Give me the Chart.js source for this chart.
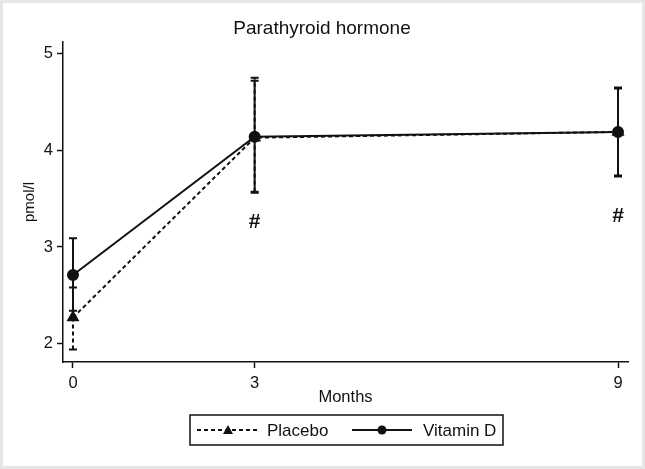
<!DOCTYPE html>
<html>
<head>
<meta charset="utf-8">
<script src="https://cdn.jsdelivr.net/npm/chart.js@4"></script>
<style>
  html, body { margin: 0; padding: 0; background: #fff; }
  #wrap { width: 645px; height: 469px; position: relative; }
</style>
</head>
<body>
<div id="wrap"><canvas id="c"></canvas></div>
<script>
const months = [0, 3, 9];
const xTicks = [0, 3, 9];
const yTicks = [2, 3, 4, 5];

const placebo = [2.27, 4.13, 4.19];
const placeboLow = [1.94, 3.57, 3.74];
const placeboHigh = [2.58, 4.75, 4.64];

const vitD = [2.71, 4.14, 4.19];
const vitDLow = [2.34, 3.56, 3.73];
const vitDHigh = [3.09, 4.72, 4.65];

const hashMonths = [3, 9];
const hashY = [3.26, 3.32];

const FONT = "Liberation Sans, Arial, sans-serif";

function pts(xs, ys) {
  return xs.map((x, i) => ({ x, y: ys[i] }));
}

// error bars drawn through the chart's scales
const errorBars = {
  id: "errorBars",
  afterDatasetsDraw(chart) {
    const { ctx, scales: { x, y } } = chart;
    const sets = [
      { lo: placeboLow, hi: placeboHigh, dash: [4, 3] },
      { lo: vitDLow, hi: vitDHigh, dash: [] }
    ];
    ctx.save();
    ctx.strokeStyle = "#111";
    ctx.lineWidth = 2;
    sets.forEach(s => {
      months.forEach((m, i) => {
        const px = x.getPixelForValue(m);
        const yl = y.getPixelForValue(s.lo[i]);
        const yh = y.getPixelForValue(s.hi[i]);
        ctx.setLineDash(s.dash);
        ctx.beginPath();
        ctx.moveTo(px, yl);
        ctx.lineTo(px, yh);
        ctx.stroke();
        ctx.setLineDash([]);
        ctx.beginPath();
        ctx.moveTo(px - 4, yl); ctx.lineTo(px + 4, yl);
        ctx.moveTo(px - 4, yh); ctx.lineTo(px + 4, yh);
        ctx.stroke();
      });
    });
    ctx.restore();
  }
};

// frame, title, axis titles, # marks and the boxed legend
const decorations = {
  id: "decorations",
  beforeDraw(chart) {
    const { ctx, width, height } = chart;
    ctx.save();
    ctx.fillStyle = "#e6e6e6";
    ctx.fillRect(0, 0, width, height);
    ctx.fillStyle = "#fff";
    ctx.fillRect(3, 3, width - 6, height - 6);
    ctx.restore();
  },
  afterDraw(chart) {
    const { ctx, chartArea: a, scales: { x, y } } = chart;
    ctx.save();
    ctx.fillStyle = "#111";
    ctx.textAlign = "center";
    ctx.textBaseline = "middle";
    ctx.font = "19px " + FONT;
    ctx.fillText("Parathyroid hormone", 322, 29);
    ctx.font = "16.5px " + FONT;
    ctx.fillText("Months", (a.left + a.right) / 2, 397);
    ctx.save();
    ctx.translate(30, (a.top + a.bottom) / 2);
    ctx.rotate(-Math.PI / 2);
    ctx.font = "15px " + FONT;
    ctx.fillText("pmol/l", 0, 0);
    ctx.restore();

    ctx.font = "bold 21px " + FONT;
    hashMonths.forEach((m, i) => {
      ctx.fillText("#", x.getPixelForValue(m), y.getPixelForValue(hashY[i]));
    });

    // legend
    const bx = 190, by = 415, bw = 313, bh = 30, cy = by + bh / 2;
    ctx.strokeStyle = "#111";
    ctx.lineWidth = 1.5;
    ctx.strokeRect(bx, by, bw, bh);
    ctx.lineWidth = 2;
    ctx.setLineDash([4, 3]);
    ctx.beginPath(); ctx.moveTo(197, cy); ctx.lineTo(258, cy); ctx.stroke();
    ctx.setLineDash([]);
    ctx.beginPath();
    ctx.moveTo(228, cy - 5); ctx.lineTo(233, cy + 4); ctx.lineTo(223, cy + 4);
    ctx.closePath(); ctx.fill();
    ctx.beginPath(); ctx.moveTo(352, cy); ctx.lineTo(412, cy); ctx.stroke();
    ctx.beginPath(); ctx.arc(382, cy, 4.5, 0, Math.PI * 2); ctx.fill();
    ctx.font = "17px " + FONT;
    ctx.textAlign = "left";
    ctx.fillText("Placebo", 267, cy + 1);
    ctx.fillText("Vitamin D", 423, cy + 1);
    ctx.restore();
  }
};

new Chart(document.getElementById("c"), {
  type: "line",
  data: {
    datasets: [
      {
        label: "Placebo",
        data: pts(months, placebo),
        borderColor: "#111",
        backgroundColor: "#111",
        borderWidth: 2,
        borderDash: [4, 3],
        pointStyle: "triangle",
        pointRadius: 5.5,
        tension: 0
      },
      {
        label: "Vitamin D",
        data: pts(months, vitD),
        borderColor: "#111",
        backgroundColor: "#111",
        borderWidth: 2,
        pointStyle: "circle",
        pointRadius: 5,
        tension: 0
      }
    ]
  },
  options: {
    responsive: true,
    maintainAspectRatio: false,
    animation: false,
    layout: { padding: { top: 42, right: 17, left: 0, bottom: 0 } },
    plugins: { legend: { display: false }, title: { display: false }, tooltip: { enabled: false } },
    scales: {
      x: {
        type: "linear",
        min: -0.165,
        max: 9.165,
        afterBuildTicks: s => { s.ticks = xTicks.map(v => ({ value: v })); },
        afterFit: s => { s.height = 107; },
        ticks: { color: "#111", font: { family: FONT, size: 16.5 }, padding: 6 },
        grid: { drawOnChartArea: false, color: "#111", tickLength: 6, tickWidth: 1.5 },
        border: { color: "#111", width: 1.5 }
      },
      y: {
        min: 1.81,
        max: 5.12,
        afterBuildTicks: s => { s.ticks = yTicks.map(v => ({ value: v })); },
        afterFit: s => { s.width = 63; },
        ticks: { color: "#111", font: { family: FONT, size: 16.5 }, padding: 4 },
        grid: { drawOnChartArea: false, color: "#111", tickLength: 6, tickWidth: 1.5 },
        border: { color: "#111", width: 1.5 }
      }
    }
  },
  plugins: [errorBars, decorations]
});
</script>
</body>
</html>
